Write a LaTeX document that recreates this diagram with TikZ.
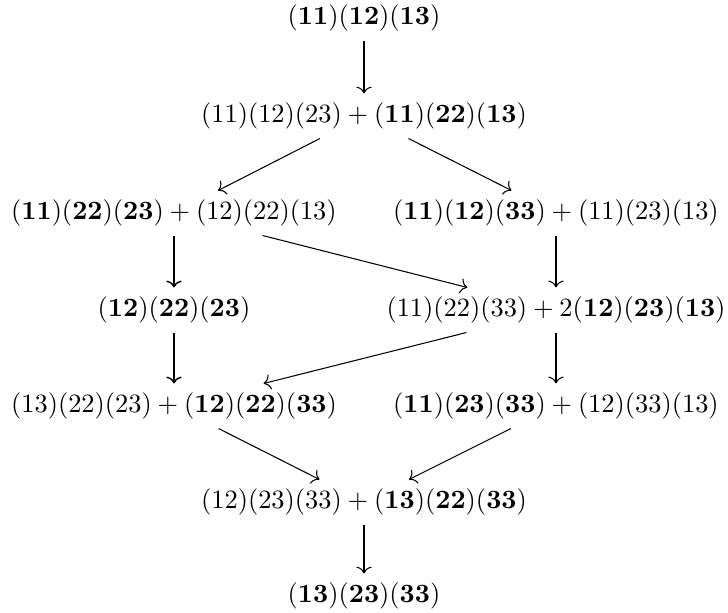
\documentclass[tikz,border=0pt]{standalone}
\usetikzlibrary{arrows.meta}
\begin{document}
\begin{tikzpicture}[x=0.37879pt,y=-0.37879pt,
  term/.style={inner sep=3.33pt},
  arr/.style={-{To[length=2.6pt,width=5.8pt,line width=0.4pt]}, line width=0.4pt},
  thickarr/.style={-{To[length=2.6pt,width=5.8pt,line width=0.55pt]}, line width=1.1pt}]
\useasboundingbox (0,0) rectangle (728,612);
\node[term] (r1)  at (364,18)  {$(\mathbf{11})(\mathbf{12})(\mathbf{13})$};
\node[term] (r2)  at (364,116) {$(11)(12)(23)+(\mathbf{11})(\mathbf{22})(\mathbf{13})$};
\node[term] (r3l) at (174,213) {$(\mathbf{11})(\mathbf{22})(\mathbf{23})+(12)(22)(13)$};
\node[term] (r3r) at (556,213) {$(\mathbf{11})(\mathbf{12})(\mathbf{33})+(11)(23)(13)$};
\node[term] (r4l) at (174,310) {$(\mathbf{12})(\mathbf{22})(\mathbf{23})$};
\node[term] (r4r) at (556,310) {$(11)(22)(33)+2(\mathbf{12})(\mathbf{23})(\mathbf{13})$};
\node[term] (r5l) at (174,406) {$(13)(22)(23)+(\mathbf{12})(\mathbf{22})(\mathbf{33})$};
\node[term] (r5r) at (556,406) {$(\mathbf{11})(\mathbf{23})(\mathbf{33})+(12)(33)(13)$};
\node[term] (r6)  at (364,502) {$(12)(23)(33)+(\mathbf{13})(\mathbf{22})(\mathbf{33})$};
\node[term] (r7)  at (364,596) {$(\mathbf{13})(\mathbf{23})(\mathbf{33})$};
\draw[arr] (r1) -- (r2);
\draw[arr] (r2) -- (r3l);
\draw[arr] (r2) -- (r3r);
\draw[thickarr] (r3l) -- (r4l);
\draw[arr] (r3l) -- (r4r);
\draw[arr] (r3r) -- (r4r);
\draw[thickarr] (r4l) -- (r5l);
\draw[arr] (r4r) -- (r5l);
\draw[arr] (r4r) -- (r5r);
\draw[arr] (r5l) -- (r6);
\draw[arr] (r5r) -- (r6);
\draw[arr] (r6) -- (r7);
\end{tikzpicture}
\end{document}
